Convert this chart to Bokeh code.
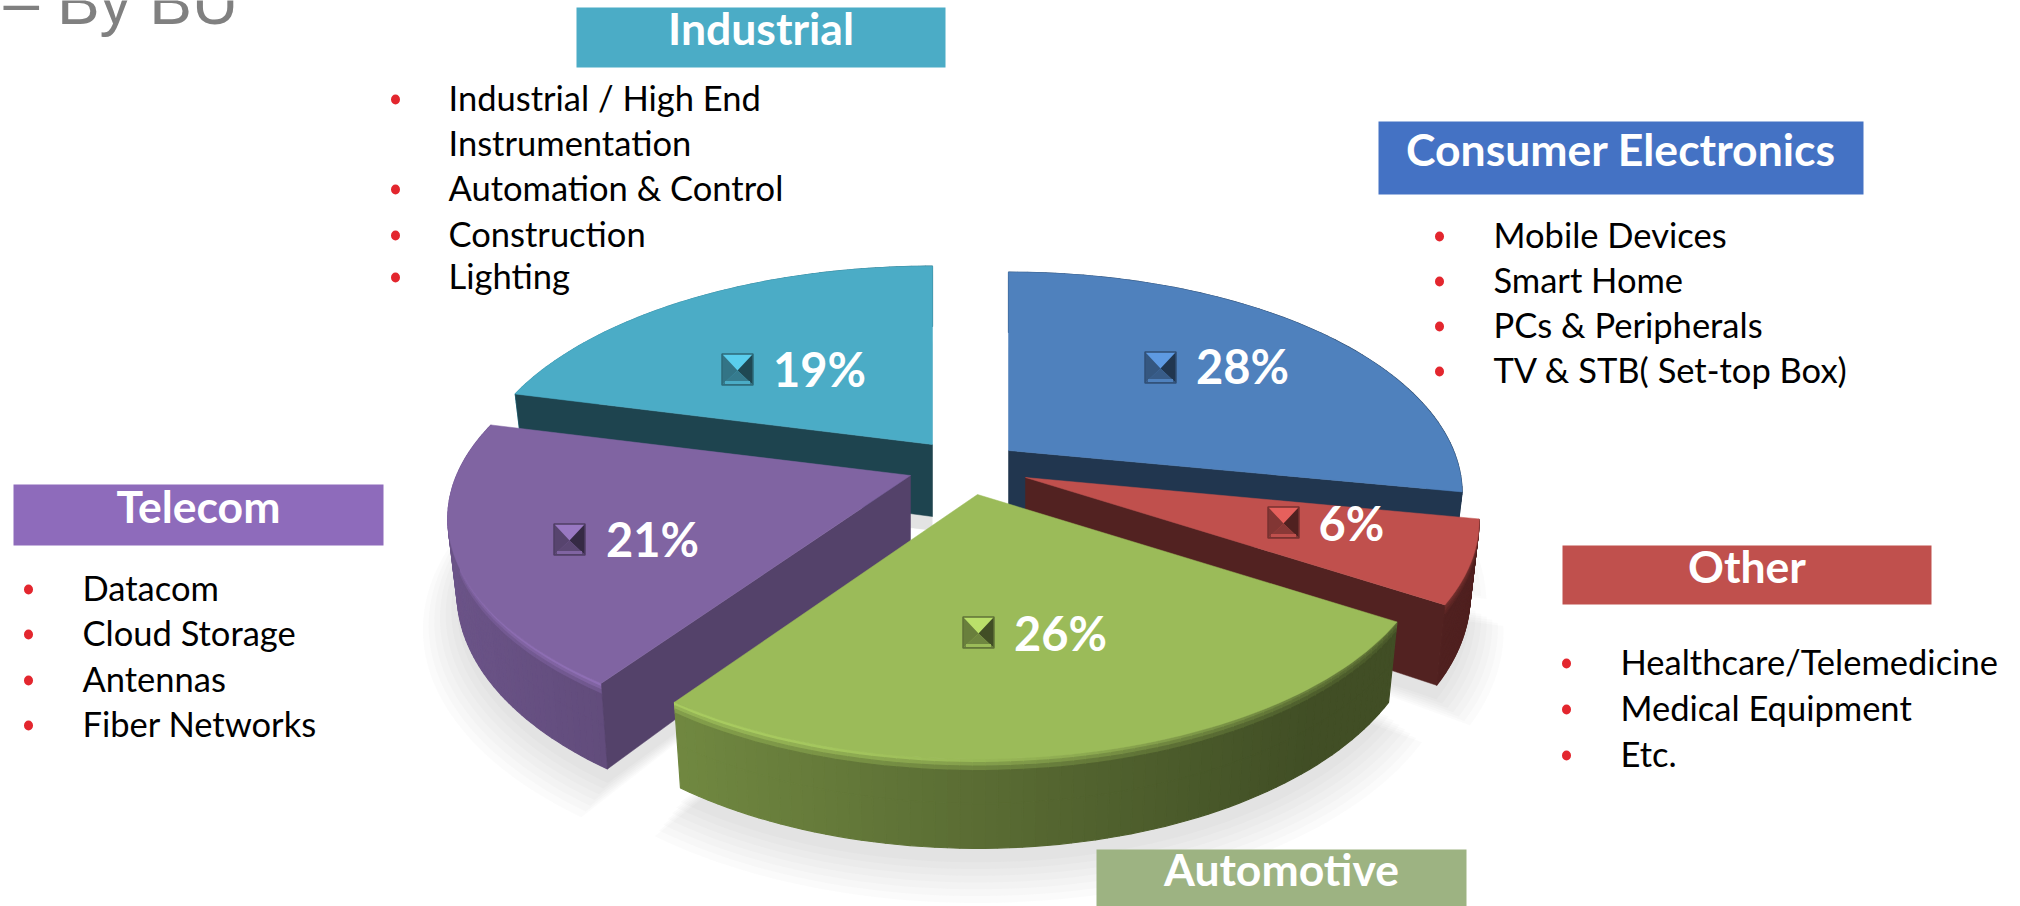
import math
from bokeh.plotting import figure
from bokeh.core.properties import value
from bokeh.embed import file_html
from bokeh.resources import INLINE

# ---- data ----
segments = ["Consumer Electronics", "Other", "Automotive", "Telecom", "Industrial"]
printed_percent = [28, 6, 26, 21, 19]          # the labels printed on the slices
drawn_percent = [28, 6, 25.7, 19.3, 21]        # the shares the slices actually span
slice_colors = ["#4F81BD", "#C0504D", "#9BBB59", "#8064A2", "#4BACC6"]
cut_tones = [0.42, 0.43, 0.42, 0.66, 0.40]
header_colors = ["#4472C4", "#C0504D", "#9DB382", "#8E6BBB", "#4BACC6"]
consumer_items = ["Mobile Devices", "Smart Home", "PCs & Peripherals", "TV & STB( Set-top Box)"]
other_items = ["Healthcare/Telemedicine", "Medical Equipment", "Etc."]
telecom_items = ["Datacom", "Cloud Storage", "Antennas", "Fiber Networks"]
industrial_items = ["Industrial / High End", "Instrumentation", "Automation & Control", "Construction", "Lighting"]
page_title = "– By BU"

# ---- layout (page pixels) ----
W, H = 2020, 906
FONT = "Lato"
AX, BY, PERSP, DEPTH = 445.0, 213.0, 0.1945, 72.0
apex = {"Consumer Electronics": (1008, 450), "Other": (1025, 477), "Automotive": (977, 494),
        "Telecom": (910, 475), "Industrial": (932, 444)}
scale_of = {"Telecom": 1.02, "Industrial": 1.015}
label_at = {"Consumer Electronics": (1242, 365), "Other": (1351, 522), "Automotive": (1060, 632),
            "Telecom": (652, 538), "Industrial": (819, 368)}
key_at = {"Consumer Electronics": (1160, 367), "Other": (1283, 522), "Automotive": (978, 632),
          "Telecom": (569, 539), "Industrial": (737, 369)}
paint_order = ["Industrial", "Consumer Electronics", "Telecom", "Other", "Automotive"]
boxes = {"Industrial": (576, 7, 945, 67), "Consumer Electronics": (1378, 121, 1863, 194),
         "Other": (1562, 545, 1931, 604), "Telecom": (13, 484, 383, 545), "Automotive": (1096, 849, 1466, 906)}
lists = [
    (consumer_items, 1439, 1493, [236, 281, 326, 371], [True] * 4),
    (other_items, 1566, 1620, [663, 709, 755], [True] * 3),
    (telecom_items, 28, 82, [589, 634, 680, 725], [True] * 4),
    (industrial_items, 395, 448, [99, 144, 189, 235, 277], [True, False, True, True, True]),
]

p = figure(width=W, height=H, x_range=(0, W), y_range=(H, 0), toolbar_location=None,
           output_backend="svg", min_border=0, outline_line_color=None)
p.xaxis.visible = False
p.yaxis.visible = False
p.grid.visible = False


def shade(hexc, f):
    r, g, b = (int(hexc[i:i + 2], 16) for i in (1, 3, 5))
    return "#%02x%02x%02x" % tuple(max(0, min(255, int(c * f))) for c in (r, g, b))


def project(name, deg, r=1.0, depth=0.0):
    ax, ay = apex[name]
    k = scale_of.get(name, 1.0)
    u, v = r * math.cos(math.radians(deg)), r * math.sin(math.radians(deg))
    s = 1 / (1 + PERSP * v)
    taper = 1 - 0.02 * depth
    return ax + taper * AX * k * s * u, ay - BY * s * v + depth * DEPTH * s


def arc(name, a0, a1, r=1.0, depth=0.0, n=60):
    pts = [project(name, a0 + (a1 - a0) * i / n, r, depth) for i in range(n + 1)]
    return [q[0] for q in pts], [q[1] for q in pts]


def cut_visible(name, a, mid):
    ax, ay = apex[name]
    ex, ey = project(name, a)
    mx, my = project(name, mid)
    if abs(ex - ax) < 20:
        return False
    return my < ay + (ey - ay) * (mx - ax) / (ex - ax)


spans = {}
start = 90.0
for nm, pc in zip(segments, drawn_percent):
    spans[nm] = (start, start - pc * 3.6)
    start -= pc * 3.6

# soft shadow
for layer in range(7):
    grow = 1.0 + layer * 0.012
    for nm in segments:
        a0, a1 = spans[nm]
        xs, ys = arc(nm, a0, a1, grow, 1.0)
        ax, ay = apex[nm]
        xs = xs + [ax]
        ys = [y + 14 + layer * 2.5 for y in ys] + [ay + DEPTH + 14]
        p.patch(xs, ys, fill_color="#808080", fill_alpha=0.035, line_color=None)

# slices, back to front
for nm in paint_order:
    idx = segments.index(nm)
    col = slice_colors[idx]
    a0, a1 = spans[nm]
    ax, ay = apex[nm]
    # curved rim: strips along the arc, bands down the depth
    N = 70
    qx, qy, qc = [], [], []
    bands = [(0.0, 0.04), (0.04, 0.08), (0.08, 0.13), (0.13, 0.5), (0.5, 1.0)]
    for i in range(N):
        b0 = a0 + (a1 - a0) * i / N
        b1 = a0 + (a1 - a0) * (i + 1) / N
        x0, _ = project(nm, b0)
        base = max(0.42, 0.84 - (x0 - 450) * 0.46 / 950)
        front = max(0.0, -math.sin(math.radians(b0)))
        glow = (0.25 + 0.75 * front) * (0.35 + 0.65 * max(0, 1 - (x0 - 450) / 950))
        for k, (d0, d1) in enumerate(bands):
            f = base
            if k < 3:
                f = base + (1.22 - base) * (1 - k / 3.0) * glow
            A = project(nm, b0, 1, d0)
            B = project(nm, b1, 1, d0)
            C = project(nm, b1, 1, d1)
            D = project(nm, b0, 1, d1)
            qx.append([A[0], B[0], C[0], D[0]])
            qy.append([A[1], B[1], C[1], D[1]])
            qc.append(shade(col, f))
    p.patches(qx, qy, fill_color=qc, line_color=qc, line_width=1.2)
    # cut faces turned towards the viewer
    side = shade(col, cut_tones[idx])
    mid = (a0 + a1) / 2
    for a in (a0, a1):
        if cut_visible(nm, a, mid):
            ex0, ey0 = project(nm, a)
            ex1, ey1 = project(nm, a, 1.0, 1.0)
            fx1, fy1 = project(nm, a, 0.0, 1.0)
            p.patch([ax, ex0, ex1, fx1], [ay, ey0, ey1, fy1], fill_color=side, line_color=side, line_width=0.5)
    # top face
    xs, ys = arc(nm, a0, a1)
    p.patch([ax] + xs, [ay] + ys, fill_color=col, line_color=col, line_width=0.5)

# bevelled keys and percent labels
for nm, pct, col in zip(segments, printed_percent, slice_colors):
    kx, ky = key_at[nm]
    h = 15.5
    corners = [(kx - h, ky - h), (kx + h, ky - h), (kx + h, ky + h), (kx - h, ky + h)]
    for i, t in enumerate([1.2, 0.42, 0.72, 0.68]):
        P, Q = corners[i], corners[(i + 1) % 4]
        p.patch([P[0], Q[0], kx], [P[1], Q[1], ky + 1], fill_color=shade(col, t), line_color=None)
    p.quad(left=[kx - h + 3], right=[kx + h - 3], top=[ky + h - 4], bottom=[ky + h - 1],
           fill_color=shade(col, 1.0), line_color=None)
    p.quad(left=[kx - h], right=[kx + h], top=[ky - h], bottom=[ky + h], fill_color=None,
           line_color=shade(col, 0.62), line_width=1.5)
    lx, ly = label_at[nm]
    p.text([lx], [ly], text=[f"{pct}%"], text_font=value(FONT), text_font_style="bold", text_font_size="47px",
           text_color="#ffffff", text_align="center", text_baseline="middle")

# header boxes
for nm, hc in zip(segments, header_colors):
    x0, y0, x1, y1 = boxes[nm]
    p.quad(left=[x0], right=[x1], top=[y0], bottom=[y1], fill_color=hc, line_color=None)
    p.text([(x0 + x1) / 2], [(y0 + y1) / 2 - 10], text=[nm], text_font=value(FONT), text_font_style="bold",
           text_font_size="44.5px", text_color="#ffffff", text_align="center", text_baseline="middle")

# bullet lists
for items, bx, tx, ys, marks in lists:
    p.text([tx] * len(items), [y - 2 for y in ys], text=items, text_font=value(FONT), text_font_size="34.5px",
           text_color="#000000", text_align="left", text_baseline="middle")
    bys = [y for y, m in zip(ys, marks) if m]
    p.ellipse([bx] * len(bys), bys, width=9, height=10, fill_color="#E3262E", line_color=None)

# clipped title
p.text([3], [1], text=[page_title], text_font=value("Liberation Sans"), text_font_size="64px",
       text_color="#808080", text_align="left", text_baseline="alphabetic")

open("out.html", "w").write(file_html(p, INLINE))
